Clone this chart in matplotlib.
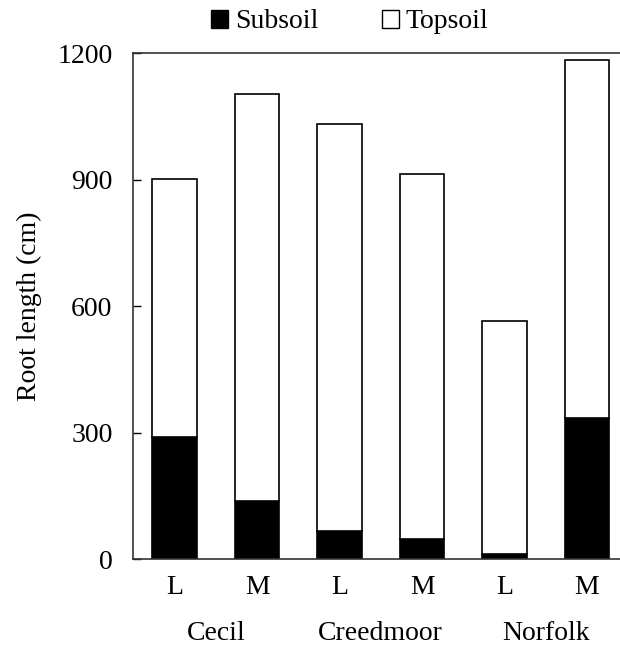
import matplotlib
matplotlib.use("Agg")
import matplotlib.pyplot as plt
from matplotlib.patches import Patch
from matplotlib import transforms

plt.rcParams['font.family'] = ['Liberation Serif', 'DejaVu Serif']

soils = ["Cecil", "Creedmoor", "Norfolk"]
treatments = ["L", "M", "L", "M", "L", "M"]
total = [903, 1104, 1032, 914, 565, 1183]
subsoil = [289, 138, 66, 47, 13, 336]
topsoil = [t - s for t, s in zip(total, subsoil)]
yticks = [0, 300, 600, 900, 1200]

fig = plt.figure(figsize=(6.2, 6.48), dpi=100)
ax = fig.add_axes([0.215, 0.1369, 0.785, 0.7808])

x = list(range(len(treatments)))
w = 0.54
ax.bar(x, subsoil, width=w, color="black", edgecolor="black", linewidth=1.2, label="Subsoil")
ax.bar(x, topsoil, width=w, bottom=subsoil, color="white", edgecolor="black", linewidth=1.2, label="Topsoil")

ax.set_xlim(-0.5, 5.4)
ax.set_ylim(0, 1200)
ax.set_yticks(yticks)
ax.set_xticks(x)
ax.set_xticklabels(treatments)
ax.tick_params(axis="y", direction="in", length=6, width=1, labelsize=20, pad=15)
ax.tick_params(axis="x", length=0, labelsize=20, pad=11)

ax.spines["right"].set_visible(False)
for side in ["left", "bottom", "top"]:
    ax.spines[side].set_linewidth(1.2)
    ax.spines[side].set_color("#333333")

ax.set_ylabel("Root length (cm)", fontsize=20, va="center")
ax.yaxis.set_label_coords(-0.214, 0.5)

trans = transforms.blended_transform_factory(ax.transData, fig.transFigure)
for i, s in enumerate(soils):
    ax.text(2 * i + 0.5, 1 - 634 / 648, s, transform=trans, ha="center", va="center", fontsize=20)

handles = [Patch(facecolor="black", edgecolor="black"), Patch(facecolor="white", edgecolor="black")]
fig.legend(handles, ["Subsoil", "Topsoil"], ncol=2, loc="center", bbox_to_anchor=(350 / 620, 1 - 22 / 648),
           frameon=False, fontsize=20, handlelength=0.6, handleheight=0.6, handletextpad=0.25,
           columnspacing=2.3)

fig.savefig("out.png", dpi=100)
